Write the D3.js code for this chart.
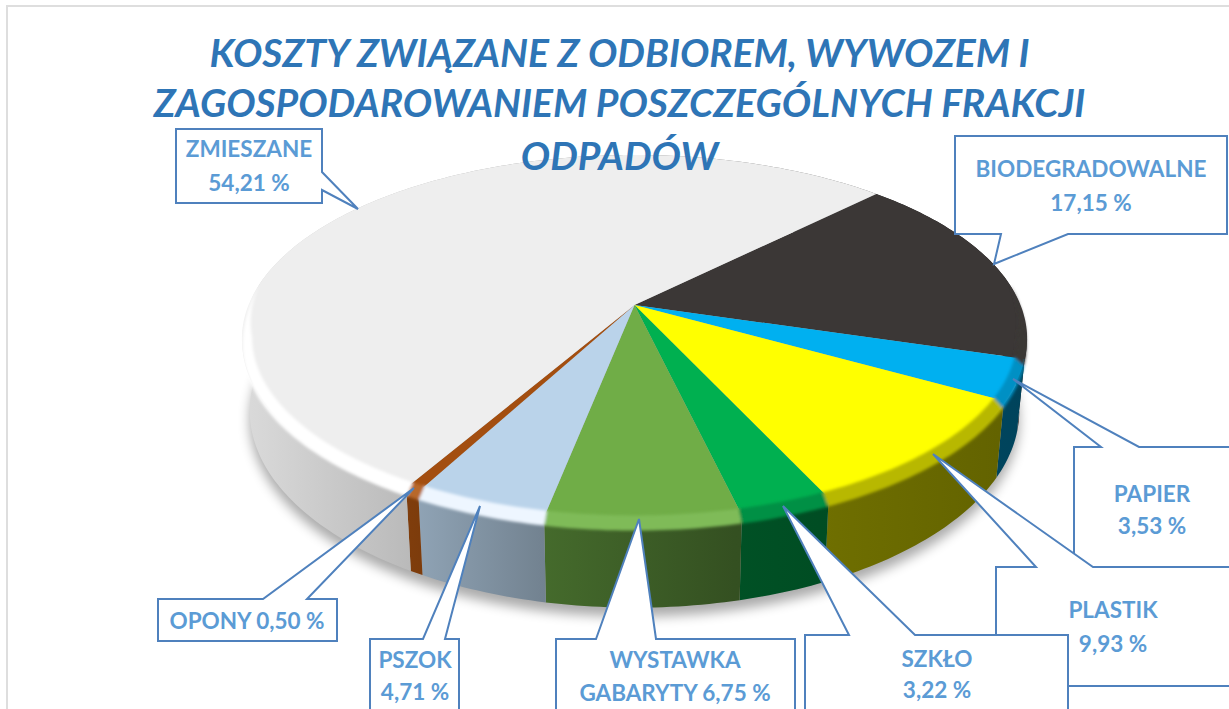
<!DOCTYPE html>
<html lang="pl">
<head>
<meta charset="utf-8">
<script src="https://cdn.jsdelivr.net/npm/d3@7/dist/d3.min.js"></script>
<style>
html,body{margin:0;padding:0;background:#fff;overflow:hidden}
svg{display:block}
text{font-family:Lato,sans-serif;font-weight:700}
</style>
</head>
<body>
<svg id="chart" width="1229" height="709"></svg>
<script>
// --- data ---
const titleLines = ["KOSZTY ZWIĄZANE Z ODBIOREM, WYWOZEM I", "ZAGOSPODAROWANIEM POSZCZEGÓLNYCH FRAKCJI", "ODPADÓW"];
const categories = ["BIODEGRADOWALNE", "PAPIER", "PLASTIK", "SZKŁO", "WYSTAWKA GABARYTY", "PSZOK", "OPONY", "ZMIESZANE"];
const values = [17.15, 3.53, 9.93, 3.22, 6.75, 4.71, 0.50, 54.21];
const topColors = ["#3b3736", "#00b0f0", "#ffff00", "#00b050", "#70ad47", "#bad3ea", "#a34e10", "#eeeeee"];
const rimColors = ["#3b3736", "#0090c4", "#b8b800", "#009044", "#7fbb58", "#eef6ff", "#b8682a", "#ffffff"];

// --- callout layout (annotation shapes, in page pixels) ---
const callouts = [
  {i:7, box:[176,129,322,203], side:"right", tail:[[322,172],[358,209],[322,190]], lines:[["ZMIESZANE",249,157],["54,21 %",249,191]]},
  {i:0, box:[955,136,1227,234], side:"bottom", tail:[[1068,234],[994,264],[1001,234]], lines:[["BIODEGRADOWALNE",1091,177],["17,15 %",1091,211]]},
  {i:1, box:[1074,447,1260,580], side:"top", tail:[[1101,447],[1013,379],[1139,447]], lines:[["PAPIER",1152,502],["3,53 %",1152,534]]},
  {i:2, box:[996,567,1260,686], side:"top", tail:[[1036,567],[933,454],[1093,567]], lines:[["PLASTIK",1113,618],["9,93 %",1113,652]]},
  {i:3, box:[805,635,1068,740], side:"top", tail:[[849,635],[783,506],[915,635]], lines:[["SZKŁO",937,667],["3,22 %",937,698]]},
  {i:4, box:[556,639,795,740], side:"top", tail:[[596,639],[639,519],[656,639]], lines:[["WYSTAWKA",675,668],["GABARYTY 6,75 %",675,701]]},
  {i:5, box:[370,639,459,740], side:"top", tail:[[423,639],[480,506],[445,639]], lines:[["PSZOK",415,668],["4,71 %",415,700]]},
  {i:6, box:[158,599,337,641], side:"top", tail:[[263,599],[414,488],[307,599]], lines:[["OPONY 0,50 %",247,629]]}
];

const svg = d3.select("#chart");
const defs = svg.append("defs");

// frame
svg.append("path").attr("d","M7,709V6H1229").attr("fill","none").attr("stroke","#dedede").attr("stroke-width",2);

// --- perspective projection of the pie disc ---
const cx = 634.5, cy = 305, ax = 386, by = 177.4, k = 0.1826, depth = 70, taper = 0.02;
function project(a, r, z) {
  const u = r*Math.sin(a), v = -r*Math.cos(a);
  const s = 1/(1 - k*v);
  return [cx + ax*u*s*(1 - taper*z/depth), cy + by*v*s + z*s];
}
const front = a => Math.max(0, Math.min(1, (0.12 - Math.cos(a))/0.3));
const bevelZ = 7, bevelR = 0.025;
const line = d3.line();
const arcAngles = (a0, a1) => {
  const n = Math.max(2, Math.ceil((a1-a0)/(Math.PI/180)));
  return d3.range(n+1).map(j => a0 + (a1-a0)*j/n);
};

const pie = d3.pie().sort(null).startAngle(45*Math.PI/180).endAngle(405*Math.PI/180);
const arcs = pie(values);

const shade = d3.scaleLinear().domain([241,410,540,735,1028]).range([.92,.78,.62,.46,.38]);
const shadeStops = shade.domain();

function blur(id, sd){
  defs.append("filter").attr("id",id).attr("x","-10%").attr("y","-10%").attr("width","120%").attr("height","120%")
    .append("feGaussianBlur").attr("stdDeviation", sd);
}
blur("shadowBlur", 6);
blur("rimBlur", 1.4);

// ground shadow
const all = arcAngles(0, 2*Math.PI).map(a => project(a, 1, depth));
svg.append("path").attr("d", line(all)+"Z").attr("transform","translate(0,9)")
  .attr("fill","#000").attr("opacity",.33).attr("filter","url(#shadowBlur)");

// side walls
const gSide = svg.append("g");
arcs.forEach((d,i) => {
  const base = d3.rgb(topColors[i]);
  const id = "side"+i;
  const g = defs.append("linearGradient").attr("id",id).attr("gradientUnits","userSpaceOnUse")
    .attr("x1",shadeStops[0]).attr("x2",shadeStops[shadeStops.length-1]).attr("y1",0).attr("y2",0);
  shadeStops.forEach(x => {
    const f = shade(x);
    g.append("stop").attr("offset",(x-shadeStops[0])/(shadeStops[shadeStops.length-1]-shadeStops[0]))
     .attr("stop-color", d3.rgb(base.r*f, base.g*f, base.b*f).formatHex());
  });
  const as = arcAngles(d.startAngle, d.endAngle);
  const pts = as.map(a => project(a,1,bevelZ*front(a)*0.5)).concat(as.slice().reverse().map(a => project(a,1,depth)));
  gSide.append("path").attr("d", line(pts)+"Z").attr("fill","url(#"+id+")");
});

// top face
const gTop = svg.append("g");
arcs.forEach((d,i) => {
  const pts = [[cx,cy]].concat(arcAngles(d.startAngle,d.endAngle).map(a => project(a,1,0)));
  gTop.append("path").attr("d", line(pts)+"Z").attr("fill",topColors[i]);
});

// bevel strip, soft edge between the top face and the wall
const gRim = svg.append("g").attr("filter","url(#rimBlur)");
arcs.forEach((d,i) => {
  const as = arcAngles(d.startAngle, d.endAngle).filter(a => front(a) > 0);
  if (as.length < 2) return;
  const pts = as.map(a => project(a, 1-bevelR*front(a), 0))
    .concat(as.slice().reverse().map(a => project(a, 1, bevelZ*front(a))));
  gRim.append("path").attr("d", line(pts)+"Z").attr("fill",rimColors[i]);
});

// title
svg.append("g").selectAll("text").data(titleLines).join("text")
  .attr("x",619.5).attr("y",(d,i)=>[67,117,170][i])
  .attr("text-anchor","middle").attr("font-size",39).attr("font-style","italic").attr("fill","#2e75b6")
  .text(d=>d);

// callouts, back to front
const gCall = svg.append("g");
callouts.forEach(c => {
  const [x0,y0,x1,y1] = c.box;
  let p;
  if (c.side==="right") p=[[x0,y0],[x1,y0],...c.tail,[x1,y1],[x0,y1]];
  else if (c.side==="bottom") p=[[x0,y0],[x1,y0],[x1,y1],...c.tail,[x0,y1]];
  else p=[[x0,y0],...c.tail,[x1,y0],[x1,y1],[x0,y1]];
  gCall.append("path").attr("d",line(p)+"Z").attr("fill","#fff").attr("stroke","#4f81bd").attr("stroke-width",2).attr("stroke-linejoin","miter");
  gCall.selectAll(null).data(c.lines).join("text")
    .attr("x",l=>l[1]).attr("y",l=>l[2]).attr("text-anchor","middle").attr("font-size",22.5).attr("fill","#5b9bd5")
    .text(l=>l[0]);
});
</script>
</body>
</html>
